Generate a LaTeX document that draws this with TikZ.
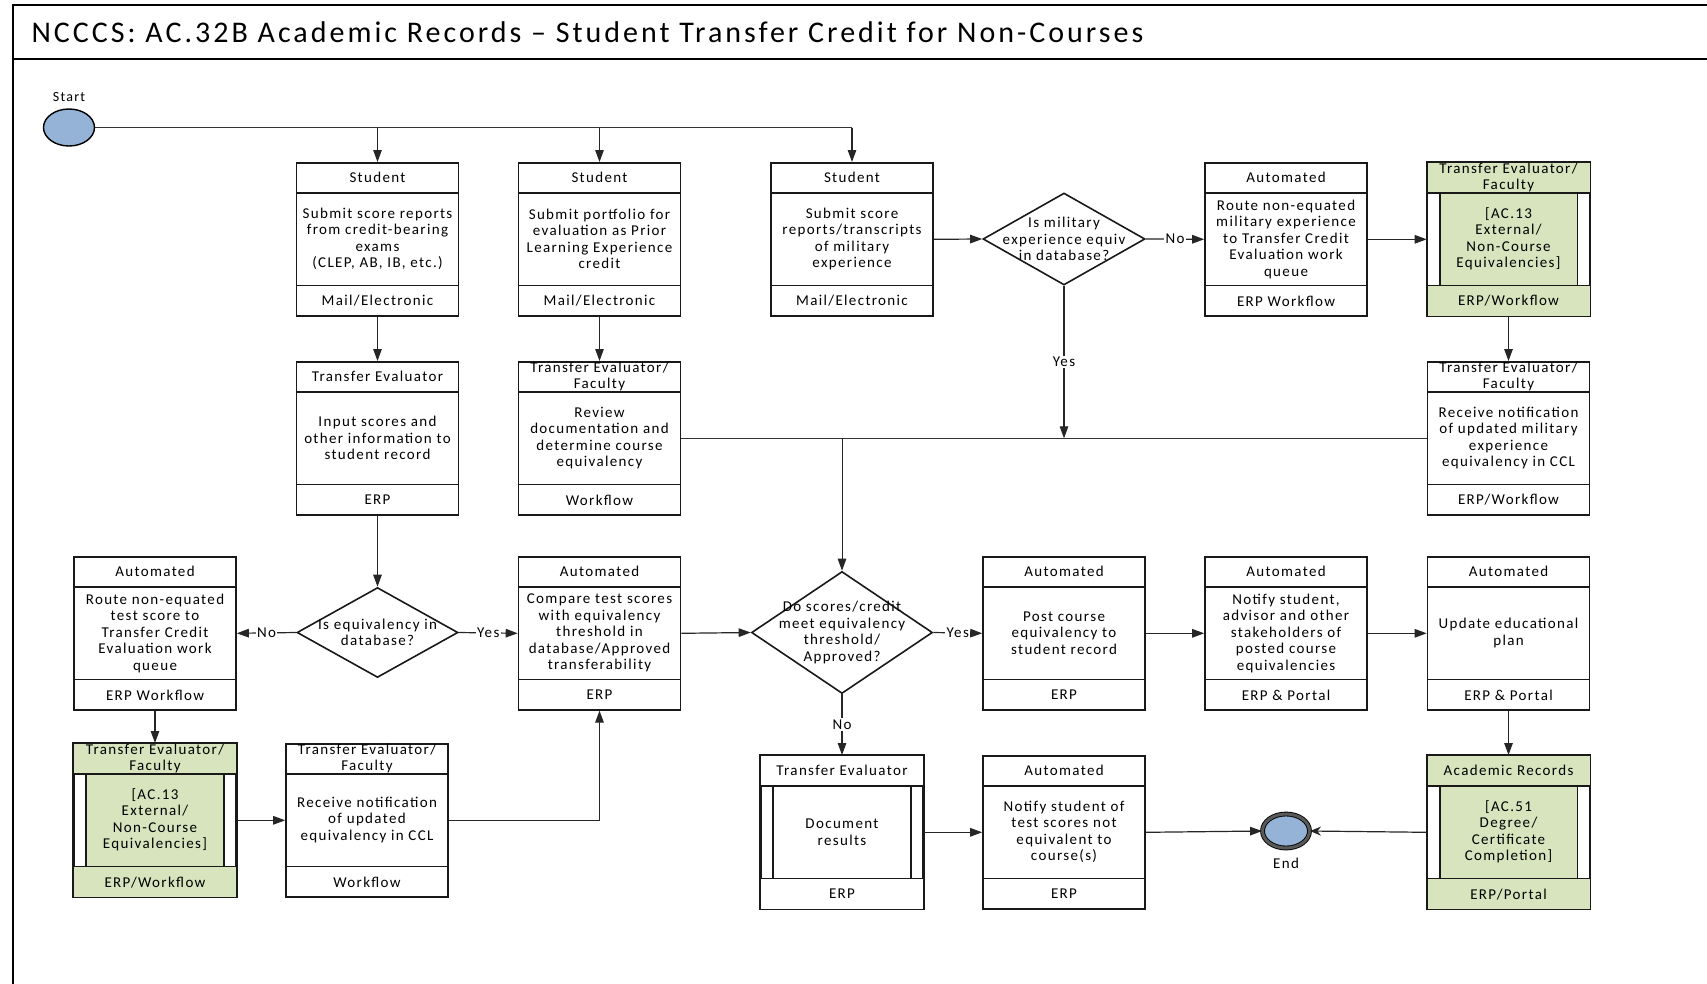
\documentclass[tikz,border=0pt]{standalone}
\usepackage{fontspec}
\setmainfont{Carlito}[LetterSpace=9]
\newfontfamily\titlefont{Carlito}[LetterSpace=10]
\usetikzlibrary{positioning}
\usetikzlibrary{shapes.geometric}
\usetikzlibrary{arrows.meta}

\definecolor{stepgreen}{RGB}{215,228,189}
\definecolor{eventblue}{RGB}{149,179,215}

\tikzset{
  pbox/.style={draw=black!90, line width=1.6pt, fill=white, minimum width=162pt, minimum height=153pt, inner sep=0pt},
  pline/.style={draw=black!90, line width=1.6pt},
  ptext/.style={align=center, font=\fontsize{15}{16.5}\selectfont, inner sep=0pt},
  decision/.style={diamond, draw=black!90, line width=1.6pt, fill=white, inner sep=0pt},
  flow/.style={draw=black!85, line width=1.2pt, -{Triangle[length=12pt,width=8.5pt]}},
  link/.style={draw=black!80, line width=1pt},
  answer/.style={fill=white, inner sep=1.5pt, font=\fontsize{15}{17}\selectfont},
  event/.style={ellipse, fill=eventblue, draw=black, line width=1.4pt, minimum width=51pt, minimum height=37pt, inner sep=0pt},
}

% three-part step: name, x, top, header, body, footer
\newcommand{\procbox}[6]{%
  \node[pbox, anchor=north] (#1) at (#2,#3) {};
  \draw[pline] ([yshift=-31pt]#1.north west) -- ([yshift=-31pt]#1.north east);
  \draw[pline] ([yshift=31pt]#1.south west) -- ([yshift=31pt]#1.south east);
  \node[ptext] (#1-h) at ([yshift=-15.5pt]#1.north) {#4};
  \node[ptext] (#1-b) at ([yshift=-77pt]#1.north) {#5};
  \node[ptext] (#1-f) at ([yshift=15.5pt]#1.south) {#6};
}

% sub-process step with side bars, optional fill
\newcommand{\subbox}[7][white]{%
  \node[pbox, anchor=north] (#2) at (#3,#4) {};
  \fill[#1] (#2.north west) rectangle ([yshift=-31pt]#2.north east);
  \fill[#1] (#2.south west) rectangle ([yshift=31pt]#2.south east);
  \filldraw[pline, fill=#1] ([xshift=13pt,yshift=-31pt]#2.north west) rectangle ([xshift=-13pt,yshift=31pt]#2.south east);
  \draw[pline] ([yshift=-31pt]#2.north west) -- ([yshift=-31pt]#2.north east);
  \draw[pline] ([yshift=31pt]#2.south west) -- ([yshift=31pt]#2.south east);
  \draw[pline] (#2.north west) rectangle (#2.south east);
  \node[ptext] (#2-h) at ([yshift=-15.5pt]#2.north) {#5};
  \node[ptext] (#2-b) at ([yshift=-77pt]#2.north) {#6};
  \node[ptext] (#2-f) at ([yshift=15.5pt]#2.south) {#7};
}

\begin{document}
\begin{tikzpicture}[x=1pt, y=-1pt]
  \useasboundingbox[fill=white] (0,0) rectangle (1707,983);

  % frame and title
  \draw[line width=1.6pt] (13,995) -- (13,5) -- (1720,5);
  \draw[line width=1.6pt] (13,59) -- (1720,59);
  \node[anchor=west, font=\titlefont\fontsize{30}{33}\selectfont] (title) at (28,32)
    {NCCCS: AC.32B Academic Records \textendash\ Student Transfer Credit for Non-Courses};

  % start / end events
  \node[event] (startev) at (69,127.5) {};
  \node[font=\fontsize{14}{16}\selectfont] (startlbl) at (69,97) {Start};

  % row 1
  \procbox{s1}{377.5}{162}{Student}{Submit score reports\\from credit-bearing\\exams\\(CLEP, AB, IB, etc.)}{Mail/Electronic}
  \procbox{s2}{599.5}{162}{Student}{Submit portfolio for\\evaluation as Prior\\Learning Experience\\credit}{Mail/Electronic}
  \procbox{s3}{852}{162}{Student}{Submit score\\reports/transcripts\\of military\\experience}{Mail/Electronic}
  \node[decision, minimum width=162pt, minimum height=92pt] (dmil) at (1064,239) {};
  \node[ptext] (dmil-t) at (dmil) {Is military\\experience equiv\\in database?};
  \procbox{a1}{1286}{162}{Automated}{Route non-equated\\military experience\\to Transfer Credit\\Evaluation work\\queue}{ERP Workflow}
  \subbox[stepgreen]{g1}{1508.5}{162}{Transfer Evaluator/\\Faculty}{[AC.13\\External/\\Non-Course\\Equivalencies]}{ERP/Workflow}

  % row 2
  \procbox{t1}{377.5}{361}{Transfer Evaluator}{Input scores and\\other information to\\student record}{ERP}
  \procbox{t2}{599.5}{361}{Transfer Evaluator/\\Faculty}{Review\\documentation and\\determine course\\equivalency}{Workflow}
  \procbox{t3}{1508.5}{361}{Transfer Evaluator/\\Faculty}{Receive notification\\of updated military\\experience\\equivalency in CCL}{ERP/Workflow}

  % row 3
  \procbox{a2}{155}{556}{Automated}{Route non-equated\\test score to\\Transfer Credit\\Evaluation work\\queue}{ERP Workflow}
  \node[decision, minimum width=161pt, minimum height=90pt] (deq) at (377.5,632.5) {};
  \node[ptext] (deq-t) at (deq) {Is equivalency in\\database?};
  \procbox{a3}{599.5}{556}{Automated}{Compare test scores\\with equivalency\\threshold in\\database/Approved\\transferability}{ERP}
  \node[decision, minimum width=181pt, minimum height=122pt] (dthr) at (842,632.5) {};
  \node[ptext] (dthr-t) at (dthr) {Do scores/credit\\meet equivalency\\threshold/\\Approved?};
  \procbox{a4}{1064}{556}{Automated}{Post course\\equivalency to\\student record}{ERP}
  \procbox{a5}{1286}{556}{Automated}{Notify student,\\advisor and other\\stakeholders of\\posted course\\equivalencies}{ERP \& Portal}
  \procbox{a6}{1508.5}{556}{Automated}{Update educational\\plan}{ERP \& Portal}

  % row 4
  \subbox[stepgreen]{g2}{155}{743}{Transfer Evaluator/\\Faculty}{[AC.13\\External/\\Non-Course\\Equivalencies]}{ERP/Workflow}
  \procbox{t4}{367}{743}{Transfer Evaluator/\\Faculty}{Receive notification\\of updated\\equivalency in CCL}{Workflow}
  \subbox{t5}{842}{755}{Transfer Evaluator}{Document\\results}{ERP}
  \procbox{a7}{1064}{755}{Automated}{Notify student of\\test scores not\\equivalent to\\course(s)}{ERP}
  \subbox[stepgreen]{g3}{1508.5}{755}{Academic Records}{[AC.51\\Degree/\\Certificate\\Completion]}{ERP/Portal}

  \node[event, line width=0.9pt, double=black!65, double distance=3pt, minimum width=47pt, minimum height=34pt] (endev) at (1286,831) {};
  \node[font=\fontsize{15}{17}\selectfont] (endlbl) at (1286,863) {End};

  % connectors
  \draw[link, line width=1.2pt] (startev.east) -- (startev.east -| s3.north);
  \draw[flow] (startev.east -| s1.north) -- (s1.north);
  \draw[flow] (startev.east -| s2.north) -- (s2.north);
  \draw[flow] (startev.east -| s3.north) -- (s3.north);
  \draw[flow] (s1.south) -- (t1.north);
  \draw[flow] (s2.south) -- (t2.north);
  \draw[flow] (s3.east) -- (dmil.west);
  \draw[flow] (dmil.east) -- node[answer] {No} (a1.west);
  \draw[flow] (a1.east) -- (g1.west);
  \draw[flow] (g1.south) -- (t3.north);
  \draw[flow] (dmil.south) -- node[answer] {Yes} (dmil.south |- t2.east);
  \draw[link] (t2.east) -- (t3.west);
  \draw[flow, line width=1pt] (t2.east -| dthr.north) -- (dthr.north);
  \draw[flow] (t1.south) -- (deq.north);
  \draw[flow] (deq.west) -- node[answer] {No} (a2.east);
  \draw[flow] (deq.east) -- node[answer] {Yes} (a3.west);
  \draw[flow] (a2.south) -- (g2.north);
  \draw[flow] (g2.east) -- (t4.west);
  \draw[flow] (t4.east) -| (a3.south);
  \draw[flow] (a3.east) -- (dthr.west);
  \draw[flow] (dthr.east) -- node[answer] {Yes} (a4.west);
  \draw[flow] (dthr.south) -- node[answer] {No} (t5.north);
  \draw[flow] (a4.east) -- (a5.west);
  \draw[flow] (a5.east) -- (a6.west);
  \draw[flow] (a6.south) -- (g3.north);
  \draw[flow] (t5.east) -- (a7.west);
  \draw[flow] (a7.east) -- (endev.west);
  \draw[flow, -{Stealth[length=11pt,width=9pt]}] (g3.west) -- (endev.east);
\end{tikzpicture}
\end{document}
